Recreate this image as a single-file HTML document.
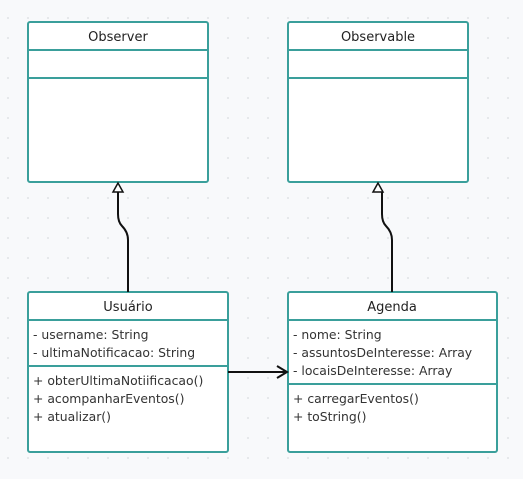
<!DOCTYPE html>
<html><head><style>
body{margin:0;width:523px;height:475px;overflow:hidden;background:#f8f9fb;font-family:"DejaVu Sans","Liberation Sans",sans-serif;}
</style></head><body>
<svg width="523" height="475" xmlns="http://www.w3.org/2000/svg">
<defs><pattern id="g" width="20" height="20" patternUnits="userSpaceOnUse" x="7" y="-3"><rect x="0" y="0" width="2" height="2" fill="#e6e8eb"/></pattern></defs>
<rect width="523" height="475" fill="#f8f9fb"/>
<rect width="523" height="475" fill="url(#g)"/>
<g fill="#fff" stroke="#3a9f9b" stroke-width="2">
<rect x="28" y="22" width="180" height="160" rx="2"/>
<line x1="28" y1="50" x2="208" y2="50"/><line x1="28" y1="78" x2="208" y2="78"/>
<rect x="288" y="22" width="180" height="160" rx="2"/>
<line x1="288" y1="50" x2="468" y2="50"/><line x1="288" y1="78" x2="468" y2="78"/>
<rect x="28" y="292" width="200" height="160" rx="2"/>
<line x1="28" y1="320" x2="228" y2="320"/><line x1="28" y1="366" x2="228" y2="366"/>
<rect x="288" y="292" width="209" height="160" rx="2"/>
<line x1="288" y1="320" x2="497" y2="320"/><line x1="288" y1="384" x2="497" y2="384"/>
</g>
<g fill="none" stroke="#111" stroke-width="2">
<path d="M128 292 V240 Q128 232 122 226 Q118 222 118 214 V192"/>
<path d="M392 292 V240 Q392 232 386 226 Q382 222 382 214 V192"/>
<path d="M228 372 H286"/>
<path d="M277 366 L287 372 L277 378"/>
</g>
<g fill="#fff" stroke="#111" stroke-width="1.5">
<path d="M118 183 L113 192 H123 Z"/>
<path d="M378 183 L373 192 H383 Z"/>
</g>
<g font-size="13" fill="#222">
<text x="118" y="41" text-anchor="middle">Observer</text>
<text x="378" y="41" text-anchor="middle">Observable</text>
<text x="128" y="311" text-anchor="middle">Usuário</text>
<text x="392" y="311" text-anchor="middle">Agenda</text>
</g>
<g font-size="12.4" fill="#333">
<text x="33" y="339">- username: String</text>
<text x="33" y="357">- ultimaNotificacao: String</text>
<text x="33" y="385">+ obterUltimaNotiificacao()</text>
<text x="33" y="403">+ acompanharEventos()</text>
<text x="33" y="421">+ atualizar()</text>
<text x="293" y="339">- nome: String</text>
<text x="293" y="357">- assuntosDeInteresse: Array</text>
<text x="293" y="375">- locaisDeInteresse: Array</text>
<text x="293" y="403">+ carregarEventos()</text>
<text x="293" y="421">+ toString()</text>
</g>
</svg>
</body></html>
